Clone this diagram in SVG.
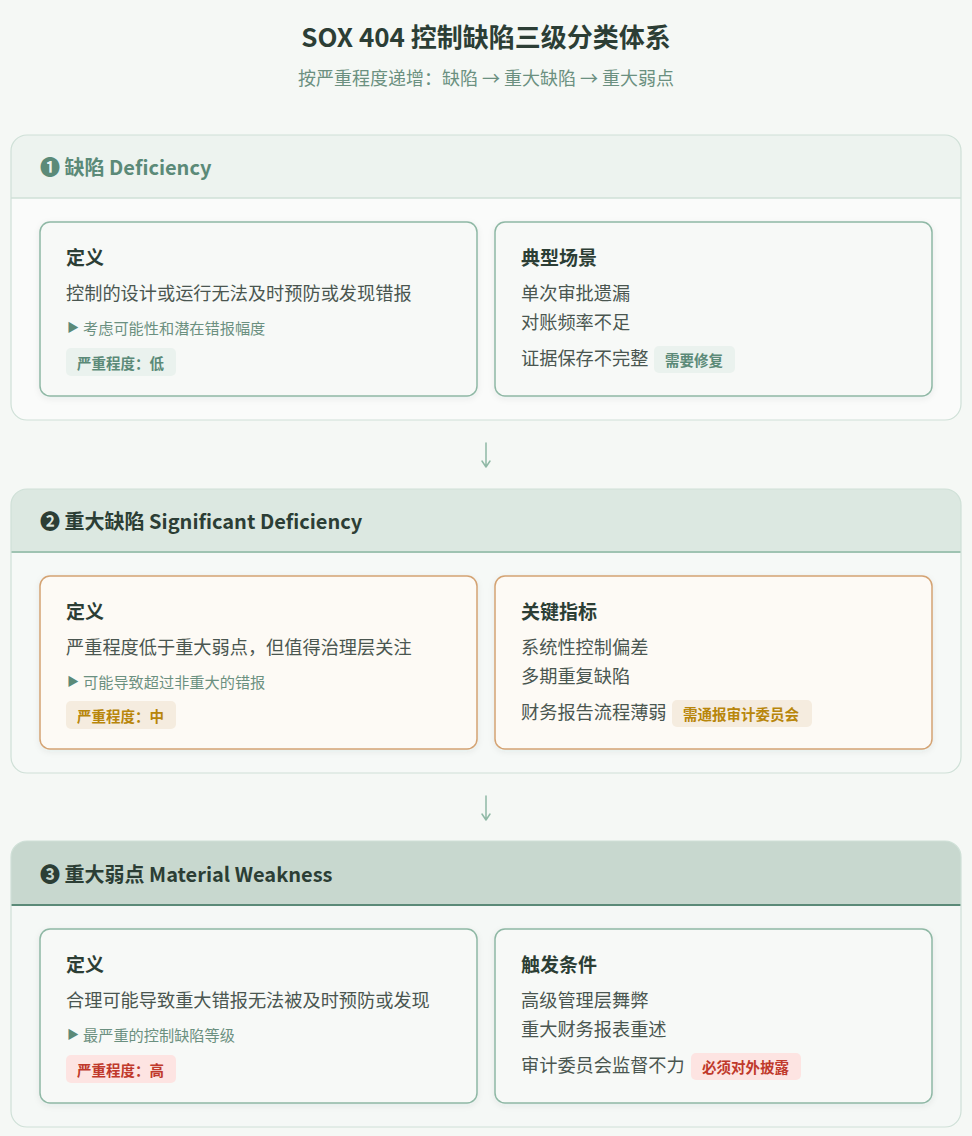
<svg xmlns="http://www.w3.org/2000/svg" width="972" height="1136" viewBox="0 0 972 1136">
<defs>
<style>
text{font-family:"Noto Sans CJK SC","Noto Sans",sans-serif;}
.title{font-size:26px;font-weight:700;fill:#2c3e35;}
.sub{font-size:18px;fill:#6b9080;}
.hdr{font-size:20px;font-weight:700;fill:#2c3e35;}
.ct{font-size:19px;font-weight:700;fill:#2c3e35;}
.body{font-size:18.2px;fill:#4a5650;}
.note{font-size:15.2px;fill:#6b9080;}
.tri{font-size:12px;fill:#5b8a78;}
.badge{font-size:14.5px;font-weight:700;}
.outer{fill:none;stroke:#cfe0d7;stroke-width:1.2;}
.cardG{fill:#f7f9f7;stroke:#8fb8a5;stroke-width:1.5;filter:url(#sh);}
.cardO{fill:#fdfaf5;stroke:#d4a373;stroke-width:1.5;filter:url(#sh);}
.bLow{fill:#eaf2ee;} .tLow{fill:#5b8a78;}
.bMid{fill:#f5ecdf;} .tMid{fill:#b8860b;}
.bHigh{fill:#fde4e2;} .tHigh{fill:#c0392b;}
.conn{fill:none;stroke:#8fb8a5;stroke-width:1.5;stroke-linecap:round;stroke-linejoin:round;}
</style>
<filter id="sh" x="-5%" y="-10%" width="110%" height="125%">
<feDropShadow dx="0" dy="2" stdDeviation="3" flood-color="#2c3e35" flood-opacity="0.07"/>
</filter>
</defs>
<rect x="0" y="0" width="972" height="1136" fill="#f5f8f5"/>

<g id="title">
<text class="title" x="486" y="47" text-anchor="middle">SOX 404 控制缺陷三级分类体系</text>
<text class="sub" x="486" y="85" text-anchor="middle">按严重程度递增：缺陷 → 重大缺陷 → 重大弱点</text>
</g>

<!-- Section 1 -->
<g id="level1">
<rect x="11" y="135" width="950" height="285" rx="16" fill="#fafbfa"/>
<path d="M11,151 A16,16 0 0 1 27,135 H945 A16,16 0 0 1 961,151 V198 H11 Z" fill="#edf3ef"/>
<line x1="11" y1="198" x2="961" y2="198" stroke="#cfe0d7" stroke-width="1.5"/>
<rect class="outer" x="11" y="135" width="950" height="285" rx="16"/>
<text class="hdr" x="40" y="175" style="fill:#5b8a78">❶ 缺陷 Deficiency</text>
<g id="level1-def">
<rect class="cardG" x="40" y="222" width="437" height="174" rx="10"/>
<text class="ct" x="66" y="265">定义</text>
<text class="body" x="66" y="300">控制的设计或运行无法及时预防或发现错报</text>
<text class="tri" x="67" y="332">▶</text>
<text class="note" x="83" y="334">考虑可能性和潜在错报幅度</text>
<rect class="bLow" x="66" y="348" width="110" height="28" rx="5"/>
<text class="badge tLow" x="77" y="369">严重程度：低</text>
</g>
<g id="level1-cases">
<rect class="cardG" x="495" y="222" width="437" height="174" rx="10"/>
<text class="ct" x="521" y="265">典型场景</text>
<text class="body" x="521" y="300">单次审批遗漏</text>
<text class="body" x="521" y="329">对账频率不足</text>
<text class="body" x="521" y="365">证据保存不完整</text>
<rect class="bLow" x="654" y="346" width="81" height="27" rx="5"/>
<text class="badge tLow" x="665" y="366">需要修复</text>
</g>
</g>

<!-- Section 2 -->
<g id="level2">
<rect x="11" y="489" width="950" height="284" rx="16" fill="#f6f9f7"/>
<path d="M11,505 A16,16 0 0 1 27,489 H945 A16,16 0 0 1 961,505 V552 H11 Z" fill="#dce8e1"/>
<line x1="11" y1="552" x2="961" y2="552" stroke="#9fc3b2" stroke-width="2"/>
<rect class="outer" x="11" y="489" width="950" height="284" rx="16"/>
<text class="hdr" x="40" y="529">❷ 重大缺陷 Significant Deficiency</text>
<g id="level2-def">
<rect class="cardO" x="40" y="576" width="437" height="173" rx="10"/>
<text class="ct" x="66" y="619">定义</text>
<text class="body" x="66" y="654">严重程度低于重大弱点，但值得治理层关注</text>
<text class="tri" x="67" y="686">▶</text>
<text class="note" x="83" y="688">可能导致超过非重大的错报</text>
<rect class="bMid" x="66" y="701" width="110" height="28" rx="5"/>
<text class="badge tMid" x="77" y="722">严重程度：中</text>
</g>
<g id="level2-kpi">
<rect class="cardO" x="495" y="576" width="437" height="173" rx="10"/>
<text class="ct" x="521" y="619">关键指标</text>
<text class="body" x="521" y="654">系统性控制偏差</text>
<text class="body" x="521" y="683">多期重复缺陷</text>
<text class="body" x="521" y="719">财务报告流程薄弱</text>
<rect class="bMid" x="672" y="700" width="140" height="27" rx="5"/>
<text class="badge tMid" x="683" y="720">需通报审计委员会</text>
</g>
</g>

<!-- Section 3 -->
<g id="level3">
<rect x="11" y="841" width="950" height="286" rx="16" fill="#f5f8f6"/>
<path d="M11,857 A16,16 0 0 1 27,841 H945 A16,16 0 0 1 961,857 V905 H11 Z" fill="#c8d8cf"/>
<line x1="11" y1="905" x2="961" y2="905" stroke="#5b8a78" stroke-width="2"/>
<rect class="outer" x="11" y="841" width="950" height="286" rx="16"/>
<text class="hdr" x="40" y="882">❸ 重大弱点 Material Weakness</text>
<g id="level3-def">
<rect class="cardG" x="40" y="929" width="437" height="174" rx="10"/>
<text class="ct" x="66" y="972">定义</text>
<text class="body" x="66" y="1007">合理可能导致重大错报无法被及时预防或发现</text>
<text class="tri" x="67" y="1039">▶</text>
<text class="note" x="83" y="1041">最严重的控制缺陷等级</text>
<rect class="bHigh" x="66" y="1055" width="110" height="28" rx="5"/>
<text class="badge tHigh" x="77" y="1076">严重程度：高</text>
</g>
<g id="level3-trig">
<rect class="cardG" x="495" y="929" width="437" height="174" rx="10"/>
<text class="ct" x="521" y="972">触发条件</text>
<text class="body" x="521" y="1007">高级管理层舞弊</text>
<text class="body" x="521" y="1036">重大财务报表重述</text>
<text class="body" x="521" y="1072">审计委员会监督不力</text>
<rect class="bHigh" x="691" y="1053" width="110" height="27" rx="5"/>
<text class="badge tHigh" x="702" y="1073">必须对外披露</text>
</g>
</g>

<g id="connectors">
<path class="conn" d="M486,443 V467 M482,461 L486,467 L490,461"/>
<path class="conn" d="M486,796 V820 M482,814 L486,820 L490,814"/>
</g>
</svg>
